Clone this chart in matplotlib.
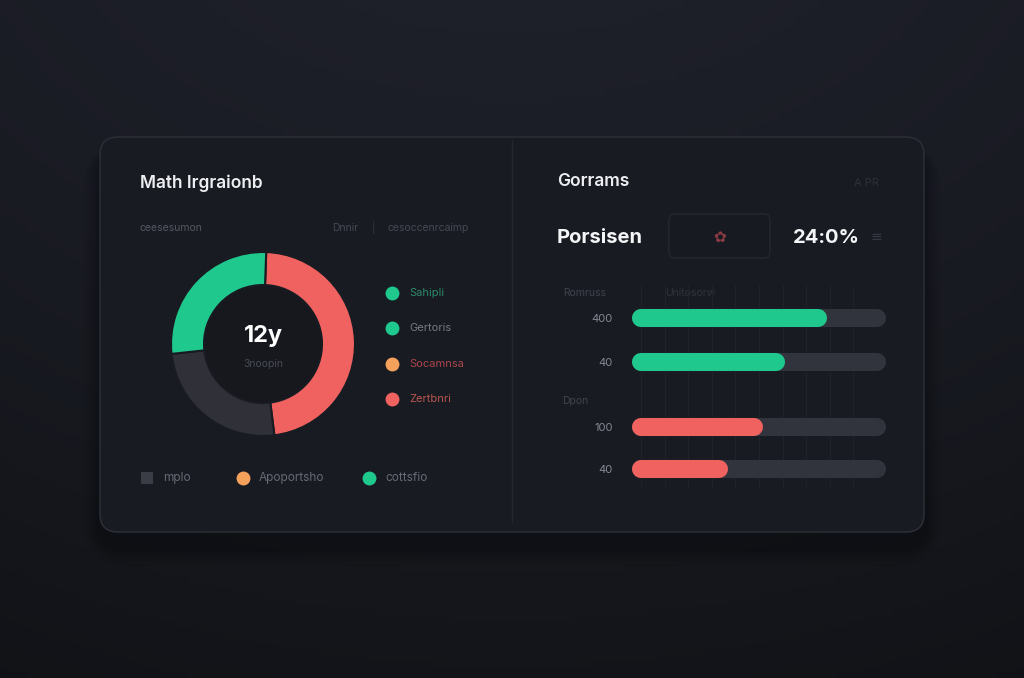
import matplotlib.pyplot as plt
from matplotlib.patches import FancyBboxPatch, Circle
from matplotlib.colors import to_rgb
import numpy as np

plt.rcParams['font.family'] = ['Inter', 'DejaVu Sans']

# data
donut_labels = ['Zertbnri', 'mplo', 'Sahipli']
donut_values = [47, 25, 27]
donut_center = '12y'
donut_sub = '3noopin'

side_labels = ['Sahipli', 'Gertoris', 'Socamnsa', 'Zertbnri']
side_dots = ['#1fc98e', '#1fc98e', '#f4a25b', '#f0625f']
side_text = ['#2c8a6b', '#767983', '#ad454a', '#b9554e']

bottom_labels = ['mplo', 'Apoportsho', 'cottsfio']
bottom_colors = ['#3a3c46', '#f4a25b', '#1fc98e']

bar_labels = ['400', '40', '100', '40']
bar_values = [75, 57, 48, 33]
bar_colors = ['#1fc98e', '#1fc98e', '#f0625f', '#f0625f']
bar_max = 100

W, H = 1024, 678
GREEN, RED, GREY = '#1fc98e', '#f0625f', '#2f3038'
CARD = '#191b23'


def box(x0, y0, x1, y1):
    return [x0 / W, 1 - y1 / H, (x1 - x0) / W, (y1 - y0) / H]


fig = plt.figure(figsize=(10.24, 6.78), dpi=100)
bg = fig.add_axes([0, 0, 1, 1])
bg.set_xlim(0, W)
bg.set_ylim(H, 0)
bg.axis('off')

# background gradient
yy, xx = np.mgrid[0:1:120j, 0:1:180j]
top, bot = np.array(to_rgb('#1f212b')), np.array(to_rgb('#14161b'))
t = yy[..., None]
img = top * (1 - t) + bot * t
vig = 1 - 0.18 * ((xx - 0.5) ** 2 * 2 + (yy - 0.45) ** 2)[..., None]
bg.imshow(np.clip(img * vig, 0, 1), extent=[0, W, H, 0], aspect='auto', zorder=0)

# card shadow + card
for i, a in enumerate([0.04, 0.05, 0.06, 0.07]):
    g = 28 - i * 7
    bg.add_patch(FancyBboxPatch((100 - g * 0.6, 152 - g * 0.3), 824 + 1.2 * g, 395 + g,
                                boxstyle='round,pad=0,rounding_size=%d' % (18 + g),
                                fc='black', ec='none', alpha=a, zorder=1))
bg.add_patch(FancyBboxPatch((100, 137), 824, 395, boxstyle='round,pad=0,rounding_size=18',
                            fc=CARD, ec='#2a2d35', lw=1.2, zorder=2))
bg.plot([512, 512], [140, 522], color='#24262e', lw=1, zorder=3)

# left header
bg.text(140, 183, 'Math Irgraionb', color='#eceef1', fontsize=12.5, fontweight='semibold',
        va='center', zorder=4)
bg.text(140, 228, 'ceesesumon', color='#555862', fontsize=7.5, va='center', zorder=4)
bg.text(332, 228, 'Dnnir', color='#464953', fontsize=7.5, va='center', zorder=4)
bg.text(372, 228, '|', color='#363942', fontsize=7.5, va='center', zorder=4)
bg.text(388, 228, 'cesoccenrcaimp', color='#464953', fontsize=7.5, va='center', zorder=4)

# side legend
for i, (lab, dc, tc) in enumerate(zip(side_labels, side_dots, side_text)):
    y = 293 + i * 35.3
    bg.scatter(392, y, s=100, color=dc, zorder=4, linewidths=0)
    bg.text(409, y, lab, color=tc, fontsize=8, va='center', zorder=4)

# bottom legend
for lab, c, x in zip(bottom_labels, bottom_colors, [147, 243, 369]):
    sq = c == '#3a3c46'
    bg.scatter(x, 478, s=75 if sq else 100, color=c, marker='s' if sq else 'o',
               zorder=4, linewidths=0)
    bg.text(x + 16, 478, lab, color='#676a74', fontsize=8.5, va='center', zorder=4)

# right header
bg.text(557, 182, 'Gorrams', color='#eceef1', fontsize=12.5, fontweight='semibold',
        va='center', zorder=4)
bg.text(866, 183, 'A PR', color='#2e313a', fontsize=8, va='center', ha='center', zorder=4)
bg.text(557, 238, 'Porsisen', color='#f4f5f7', fontsize=14.5, fontweight='bold',
        va='center', zorder=4)
bg.add_patch(FancyBboxPatch((669, 214), 101, 44, boxstyle='round,pad=0,rounding_size=6',
                            fc='#181a21', ec='#252830', lw=1, zorder=3))
bg.text(720, 237, '✿', color='#8c3a44', fontsize=11, va='center', ha='center',
        family=['DejaVu Sans'], zorder=4)
bg.text(793, 238, '24:0%', color='#f4f5f7', fontsize=14.5, fontweight='bold',
        va='center', zorder=4)
bg.text(876, 237, '≡', color='#363943', fontsize=10, va='center', ha='center', zorder=4)

# donut
ax = fig.add_axes(box(171, 252, 355, 436))
ax.pie(donut_values, colors=[RED, GREY, GREEN], startangle=88, counterclock=False,
       radius=1, wedgeprops=dict(width=33 / 92, edgecolor=CARD, linewidth=1.5))
ax.add_patch(Circle((0, 0), 1 - 33 / 92 - 0.01, fc='#16181e', ec='none'))
ax.set_xlim(-1, 1)
ax.set_ylim(-1, 1)
ax.set_aspect('equal')
ax.text(0, 0.09, donut_center, color='white', fontsize=17, fontweight='bold',
        ha='center', va='center')
ax.text(0, -0.22, donut_sub, color='#484b55', fontsize=7.5, ha='center', va='center')
ax.patch.set_alpha(0)

# bars
bx = fig.add_axes(box(632, 285, 886, 487))
ypos = np.array([0, 1, 2.48, 3.43])
for gx in range(0, 100, 10):
    bx.axvline(gx, color='#202229', lw=0.9, zorder=0)
for y, v, c in zip(ypos, bar_values, bar_colors):
    bx.plot([0, bar_max], [y, y], color='#32343d', lw=13, solid_capstyle='round', zorder=1)
    bx.plot([0, v], [y, y], color=c, lw=13, solid_capstyle='round', zorder=2)
bx.set_xlim(-3.8, 103.8)
bx.set_ylim(3.84, -0.75)
bx.set_yticks(ypos, bar_labels)
bx.tick_params(axis='y', length=0, pad=14, labelcolor='#868993', labelsize=8)
bx.set_xticks([])
for s in bx.spines.values():
    s.set_visible(False)
bx.patch.set_alpha(0)

bg.text(585, 293, 'Romruss', color='#40434d', fontsize=7.5, va='center', ha='center', zorder=4)
bg.text(665, 293, 'Unitosorw', color='#31343d', fontsize=7.5, va='center', zorder=4)
bg.text(575, 401, 'Dpon', color='#40434d', fontsize=7.5, va='center', ha='center', zorder=4)

fig.savefig('out.png', dpi=100, facecolor='#1b1d25')
